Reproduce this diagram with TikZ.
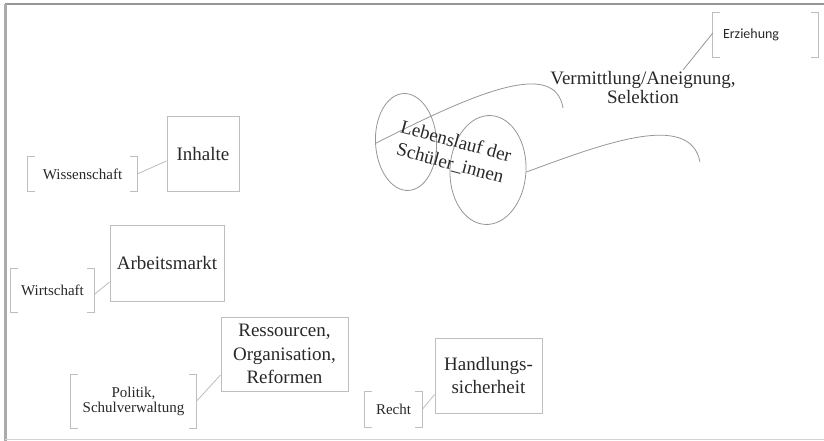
\documentclass[tikz,border=0pt]{standalone}
\usepackage{fontspec}
\setmainfont{Liberation Serif}
\newfontfamily\calfont{Carlito}
\usetikzlibrary{shapes.geometric,calc}
\definecolor{txt}{RGB}{40,40,40}
\definecolor{boxc}{RGB}{190,190,190}
\definecolor{curvec}{RGB}{150,150,150}
\definecolor{framec}{RGB}{150,150,150}
\newcommand\drawbrk[1]{%
  \draw[brkline] ([xshift=7pt]#1.north west) -- (#1.north west) -- (#1.south west) -- ([xshift=7pt]#1.south west)
                 ([xshift=-7pt]#1.north east) -- (#1.north east) -- (#1.south east) -- ([xshift=-7pt]#1.south east);}
\begin{document}
\begin{tikzpicture}[x=1pt,y=-1pt,
  big/.style={font=\fontsize{19}{23.5}\selectfont, text=txt, align=center},
  small/.style={font=\fontsize{15}{15.5}\selectfont, text=txt, align=center},
  boxn/.style={draw=boxc, line width=1pt, inner sep=0pt, big},
  brk/.style={inner sep=0pt, small},
  brkline/.style={draw=boxc, line width=1pt},
  link/.style={draw=boxc, line width=0.8pt},
  curve/.style={draw=curvec, line width=0.8pt},
  oval/.style={ellipse, draw=curvec, line width=0.8pt, inner sep=0pt}
]
\useasboundingbox (0,0) rectangle (824,441);
% frame
\draw[framec, line width=2pt] (5,4) -- (824,4);
\draw[framec!80, line width=3pt] (5,4) -- (5,441);
\draw[boxc!70, line width=1.5pt] (5,439.5) -- (824,439.5);

% boxes
\node[boxn, minimum width=72pt, minimum height=74pt] (inh) at (203,154) {Inhalte};
\node[boxn, minimum width=114pt, minimum height=76pt] (arb) at (167,263) {Arbeitsmarkt};
\node[boxn, minimum width=127pt, minimum height=74pt] (res) at (284.5,354) {Ressourcen,\\Organisation,\\Reformen};
\node[boxn, minimum width=107pt, minimum height=75pt] (hand) at (488.5,375.5) {Handlungs-\\sicherheit};

% bracket labels
\node[brk, minimum width=109pt, minimum height=34pt] (wiss) at (82.5,174) {Wissenschaft};
\node[brk, minimum width=83pt, minimum height=43pt] (wirt) at (52.5,290.5) {Wirtschaft};
\node[brk, minimum width=125pt, minimum height=53pt] (pol) at (133.5,401.5) {Politik,\\Schulverwaltung};
\node[brk, minimum width=57pt, minimum height=35pt] (recht) at (393.5,409.5) {Recht};
\node[brk, minimum height=44pt, text width=85pt, inner xsep=10pt, align=left,
      font=\calfont\fontsize{14}{16}\selectfont] (erz) at (765.5,35) {Erziehung};
\drawbrk{wiss}
\drawbrk{wirt}
\drawbrk{pol}
\drawbrk{recht}
\drawbrk{erz}

% connectors
\draw[link] (wiss.east) -- ([yshift=-7pt]inh.west);
\draw[link] ([yshift=-4pt]wirt.east) -- ([yshift=-19pt]arb.west);
\draw[link] (pol.east) -- ([yshift=-21pt]res.west);
\draw[link] (recht.east) -- ([yshift=-19pt]hand.west);

% cylinder-like drawing
\node[oval, minimum width=61pt, minimum height=97pt, rotate=3] (e1) at (406,142) {};
\node[oval, minimum width=76pt, minimum height=109pt, rotate=-3] (e2) at (488,170) {};
\draw[curve] (e1.west) .. controls (480,90) and (555,60) .. (563,108);
\draw[curve] (e2.east) .. controls (600,145) and (690,110) .. (700,162);

\node[big, rotate=-15, font=\fontsize{19}{22.5}\selectfont] (leb) at (453,153) {Lebenslauf der\\Schüler\_innen};
\node[big, font=\fontsize{19}{19}\selectfont] (verm) at (643,88) {Vermittlung/Aneignung,\\Selektion};
\coordinate (vtop) at (683,70);
\draw[link, draw=curvec] ([yshift=2pt]erz.west) -- (vtop);
\end{tikzpicture}
\end{document}
